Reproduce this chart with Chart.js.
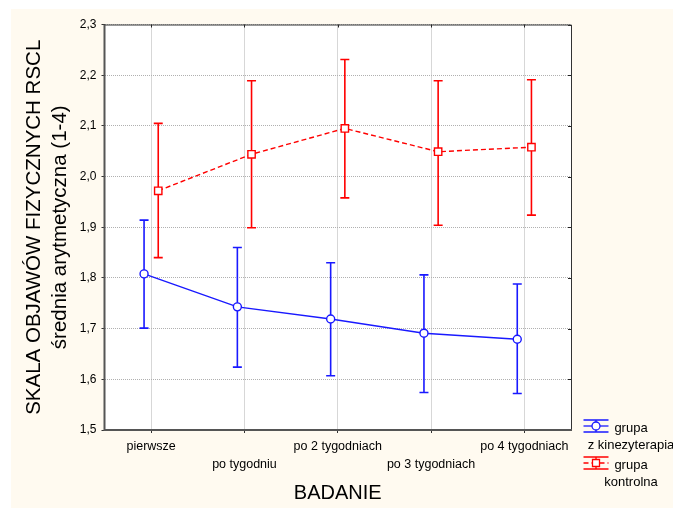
<!DOCTYPE html>
<html>
<head>
<meta charset="utf-8">
<script src="https://cdn.jsdelivr.net/npm/chart.js@4"></script>
<style>
  html, body { margin: 0; padding: 0; background: #fff; }
  #wrap { position: absolute; left: 11px; top: 9px; width: 662px; height: 499px; background: #fffaf0; }
</style>
</head>
<body>
<div id="wrap"><canvas id="chart"></canvas></div>
<script>
// chart data
const categories = ["pierwsze", "po tygodniu", "po 2 tygodniach", "po 3 tygodniach", "po 4 tygodniach"];
const yTicks = [1.5, 1.6, 1.7, 1.8, 1.9, 2.0, 2.1, 2.2, 2.3];

const kinezMean = [1.808, 1.743, 1.719, 1.691, 1.679];
const kinezHigh = [1.914, 1.860, 1.830, 1.806, 1.788];
const kinezLow  = [1.701, 1.624, 1.607, 1.574, 1.572];

const kontrMean = [1.972, 2.044, 2.095, 2.049, 2.058];
const kontrHigh = [2.105, 2.189, 2.231, 2.189, 2.191];
const kontrLow  = [1.840, 1.899, 1.958, 1.904, 1.924];

const seriesLabels = [["grupa", "z kinezyterapia"], ["grupa", "kontrolna"]];

Chart.defaults.font.family = '"Liberation Sans", Arial, sans-serif';
Chart.defaults.color = "#000";

// small side shift so the two groups don't overlap
const dodge = 0.076;
const toPoints = (vals, shift) => vals.map((v, i) => ({ x: i + shift, y: v }));

// white plot area, dotted grid is drawn by scales, then frame on top
const framePlugin = {
  id: "frame",
  beforeDraw(chart) {
    const { ctx, chartArea: a } = chart;
    ctx.save();
    ctx.fillStyle = "#fff";
    ctx.fillRect(a.left, a.top, a.width, a.height);
    ctx.restore();
  },
  beforeDatasetsDraw(chart) {
    const { ctx, chartArea: a, scales } = chart;
    ctx.save();
    ctx.strokeStyle = "#222";
    ctx.lineWidth = 1;
    ctx.beginPath();
    scales.x.ticks.forEach(t => {
      const px = Math.round(scales.x.getPixelForValue(t.value)) + 0.5;
      ctx.moveTo(px, a.top);
      ctx.lineTo(px, a.top + 3);
    });
    scales.y.ticks.forEach(t => {
      const py = Math.round(scales.y.getPixelForValue(t.value)) + 0.5;
      ctx.moveTo(a.right, py);
      ctx.lineTo(a.right - 3, py);
    });
    ctx.stroke();
    // top / right thin, left / bottom heavier
    ctx.strokeStyle = "#333";
    ctx.lineWidth = 1;
    ctx.beginPath();
    ctx.moveTo(a.left, a.top + 0.5);
    ctx.lineTo(a.right + 0.5, a.top + 0.5);
    ctx.lineTo(a.right + 0.5, a.bottom);
    ctx.stroke();
    ctx.strokeStyle = "#555";
    ctx.lineWidth = 2;
    ctx.beginPath();
    ctx.moveTo(a.left, a.top);
    ctx.lineTo(a.left, a.bottom);
    ctx.lineTo(a.right + 1, a.bottom);
    ctx.stroke();
    ctx.restore();
  }
};

// vertical error bars from the high/low arrays
const errorBarPlugin = {
  id: "errorBars",
  beforeDatasetsDraw(chart) {
    const { ctx, scales } = chart;
    const ranges = [[kinezLow, kinezHigh], [kontrLow, kontrHigh]];
    ctx.save();
    chart.data.datasets.forEach((ds, di) => {
      const meta = chart.getDatasetMeta(di);
      const [lo, hi] = ranges[di];
      ctx.strokeStyle = ds.borderColor;
      ctx.lineWidth = 1.6;
      meta.data.forEach((pt, i) => {
        const x = pt.x;
        const yHi = scales.y.getPixelForValue(hi[i]);
        const yLo = scales.y.getPixelForValue(lo[i]);
        ctx.beginPath();
        ctx.moveTo(x, yHi);
        ctx.lineTo(x, yLo);
        ctx.moveTo(x - 4.5, yHi);
        ctx.lineTo(x + 4.5, yHi);
        ctx.moveTo(x - 4.5, yLo);
        ctx.lineTo(x + 4.5, yLo);
        ctx.stroke();
      });
    });
    ctx.restore();
  }
};

// legend in the bottom-right corner, like the original
const legendPlugin = {
  id: "sideLegend",
  afterDraw(chart) {
    const { ctx, chartArea: a } = chart;
    ctx.save();
    chart.data.datasets.forEach((ds, di) => {
      const cx = a.right + 25;
      const cy = a.bottom - 4 + di * 37;
      ctx.strokeStyle = ds.borderColor;
      ctx.lineWidth = 1.3;
      ctx.beginPath();
      ctx.moveTo(cx - 12.5, cy - 6); ctx.lineTo(cx + 12.5, cy - 6);
      ctx.moveTo(cx - 12.5, cy + 6); ctx.lineTo(cx + 12.5, cy + 6);
      ctx.moveTo(cx, cy - 6); ctx.lineTo(cx, cy + 6);
      ctx.stroke();
      ctx.setLineDash(ds.borderDash || []);
      ctx.beginPath();
      ctx.moveTo(cx - 12.5, cy); ctx.lineTo(cx + 12.5, cy);
      ctx.stroke();
      ctx.setLineDash([]);
      ctx.fillStyle = "#fff";
      ctx.beginPath();
      if (ds.pointStyle === "rect") ctx.rect(cx - 3.5, cy - 3.5, 7, 7);
      else ctx.arc(cx, cy, 4, 0, Math.PI * 2);
      ctx.fill();
      ctx.stroke();

      ctx.fillStyle = "#000";
      ctx.font = '13px "Liberation Sans", Arial, sans-serif';
      ctx.textAlign = "center";
      ctx.textBaseline = "middle";
      ds.label.forEach((line, li) => ctx.fillText(line, a.right + 60, cy + 2 + li * 17));
    });
    ctx.restore();
  }
};

new Chart(document.getElementById("chart"), {
  type: "line",
  data: {
    datasets: [
      {
        label: seriesLabels[0],
        data: toPoints(kinezMean, -dodge),
        borderColor: "rgb(25,25,255)",
        borderWidth: 1.4,
        pointStyle: "circle",
        pointRadius: 4,
        pointBorderWidth: 1.4,
        pointBackgroundColor: "#fff",
        pointBorderColor: "rgb(25,25,255)",
        tension: 0
      },
      {
        label: seriesLabels[1],
        data: toPoints(kontrMean, dodge),
        borderColor: "rgb(255,0,0)",
        borderWidth: 1.4,
        borderDash: [5, 3],
        pointStyle: "rect",
        pointRadius: 5.2,
        pointBorderWidth: 1.4,
        pointBackgroundColor: "#fff",
        pointBorderColor: "rgb(255,0,0)",
        tension: 0
      }
    ]
  },
  options: {
    responsive: true,
    maintainAspectRatio: false,
    animation: false,
    events: [],
    layout: { padding: { left: 0, top: 15.5, right: 102, bottom: 0 } },
    plugins: { legend: { display: false }, tooltip: { enabled: false } },
    scales: {
      x: {
        type: "linear",
        min: -0.5,
        max: categories.length - 0.5,
        afterBuildTicks: s => { s.ticks = categories.map((_, i) => ({ value: i })); },
        afterFit: s => { s.height = 78; },
        grid: { color: "#b0b0b0", tickColor: "#333", tickLength: 3, tickBorderDash: [] },
        border: { display: false, dash: [1, 1] },
        ticks: {
          padding: 5,
          autoSkip: false,
          maxRotation: 0,
          font: { size: 12.5, lineHeight: 1.4 },
          callback: (v, i) => (i % 2 ? ["", categories[i]] : categories[i])
        },
        title: {
          display: true,
          text: "BADANIE",
          font: { size: 20, lineHeight: 1.2 },
          padding: { top: 4, bottom: 3 }
        }
      },
      y: {
        min: 1.5,
        max: 2.3,
        afterBuildTicks: s => { s.ticks = yTicks.map(v => ({ value: v })); },
        afterFit: s => { s.width = 93.5; },
        grid: { color: "#b0b0b0", tickColor: "#333", tickLength: 3, tickBorderDash: [] },
        border: { display: false, dash: [1, 1] },
        ticks: {
          padding: 5,
          font: { size: 12 },
          callback: v => v.toFixed(1).replace(".", ",")
        },
        title: {
          display: true,
          text: ["SKALA OBJAWÓW FIZYCZNYCH RSCL", "średnia arytmetyczna (1-4)"],
          font: { size: 20.5, lineHeight: 1.27 },
          padding: { top: 10, bottom: 0 }
        }
      }
    }
  },
  plugins: [framePlugin, errorBarPlugin, legendPlugin]
});
</script>
</body>
</html>
